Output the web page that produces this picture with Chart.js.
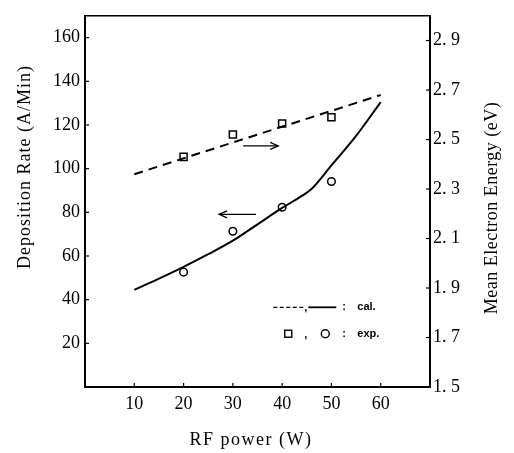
<!DOCTYPE html>
<html>
<head>
<meta charset="utf-8">
<script src="https://cdn.jsdelivr.net/npm/chart.js@4.4.1/dist/chart.umd.min.js"></script>
<style>
  html, body { margin: 0; padding: 0; background: #fff; }
</style>
</head>
<body>
<canvas id="chart" width="514" height="453"></canvas>
<script>
// tick values
const xTicks = [10, 20, 30, 40, 50, 60];
const rateTicks = [20, 40, 60, 80, 100, 120, 140, 160];
const energyTicks = [1.5, 1.7, 1.9, 2.1, 2.3, 2.5, 2.7, 2.9];

// calculated curves (cal.)
const calEnergyPower = [10, 60];
const calEnergy = [2.36, 2.68];
const calRatePower = [10, 15, 20, 25, 30, 35, 40, 44, 46, 50, 55, 60];
const calRate = [44.5, 49.6, 55, 60.8, 67, 74.5, 82, 87.5, 90.8, 101.5, 115, 130.5];

// measured points (exp.)
const expPower = [20, 30, 40, 50];
const expEnergy = [2.43, 2.52, 2.565, 2.59];
const expRate = [52.6, 71.3, 82.3, 94.1];

// arrows: [fromPower, toPower, level]
const energyArrow = [32.1, 39.2, 2.474];
const rateArrow = [34.7, 27.2, 79.1];

const serif = "'Liberation Serif', 'Times New Roman', serif";
Chart.defaults.font.family = serif;
Chart.defaults.font.size = 18;
Chart.defaults.color = '#000';

const pts = (xs, ys) => xs.map((v, i) => ({ x: v, y: ys[i] }));

function setTicks(list) {
  return scale => { scale.ticks = list.map(v => ({ value: v })); };
}

function line(ctx, x1, y1, x2, y2) {
  ctx.beginPath();
  ctx.moveTo(x1, y1);
  ctx.lineTo(x2, y2);
  ctx.stroke();
}

function arrow(ctx, x1, x2, yy) {
  line(ctx, x1, yy, x2, yy);
  const d = x2 > x1 ? -1 : 1;
  ctx.beginPath();
  ctx.moveTo(x2 + d * 8, yy - 3.5);
  ctx.lineTo(x2, yy);
  ctx.lineTo(x2 + d * 8, yy + 3.5);
  ctx.stroke();
}

const extras = {
  id: 'extras',
  afterDraw(chart) {
    const ctx = chart.ctx;
    const a = chart.chartArea;
    const x = chart.scales.x, y = chart.scales.y, yR = chart.scales.yR;
    ctx.save();
    ctx.strokeStyle = '#000';
    ctx.fillStyle = '#000';

    // top of the frame
    ctx.lineWidth = 1.5;
    line(ctx, a.left, a.top, a.right, a.top);

    // inward tick marks
    ctx.lineWidth = 1.2;
    xTicks.forEach(v => {
      const px = x.getPixelForValue(v);
      line(ctx, px, a.bottom, px, a.bottom - 4);
    });
    rateTicks.forEach(v => {
      const py = y.getPixelForValue(v);
      line(ctx, a.left, py, a.left + 4, py);
    });
    energyTicks.forEach(v => {
      const py = yR.getPixelForValue(v);
      line(ctx, a.right, py, a.right - 4, py);
    });

    // arrows pointing at the axis each curve belongs to
    ctx.lineWidth = 1.3;
    arrow(ctx, x.getPixelForValue(energyArrow[0]), x.getPixelForValue(energyArrow[1]), yR.getPixelForValue(energyArrow[2]));
    arrow(ctx, x.getPixelForValue(rateArrow[0]), x.getPixelForValue(rateArrow[1]), y.getPixelForValue(rateArrow[2]));

    // key
    const lx = x.getPixelForValue(38.2);
    const r1 = y.getPixelForValue(36.5);
    const r2 = y.getPixelForValue(24.4);
    ctx.lineWidth = 1.3;
    ctx.setLineDash([4, 2.5]);
    line(ctx, lx, r1, lx + 30, r1);
    ctx.setLineDash([]);
    ctx.lineWidth = 1.8;
    line(ctx, lx + 35, r1, lx + 63, r1);
    ctx.lineWidth = 1.4;
    ctx.strokeRect(lx + 11.5, r2 - 3.5, 7, 7);
    ctx.beginPath();
    ctx.arc(lx + 52, r2, 4, 0, Math.PI * 2);
    ctx.stroke();
    ctx.font = "bold 11px 'Liberation Sans', Arial, sans-serif";
    ctx.textBaseline = 'middle';
    ctx.textAlign = 'left';
    ctx.fillText(',', lx + 31, r1 + 1);
    ctx.fillText(',', lx + 31, r2 + 1);
    ctx.fillText(':', lx + 69, r1);
    ctx.fillText(':', lx + 69, r2);
    ctx.fillText('cal.', lx + 84, r1);
    ctx.fillText('exp.', lx + 84, r2);

    // axis titles
    ctx.font = '18px ' + serif;
    ctx.textAlign = 'center';
    ctx.letterSpacing = '1px';
    ctx.save();
    ctx.translate(25, 167);
    ctx.rotate(-Math.PI / 2);
    ctx.fillText('Deposition Rate (A/Min)', 0, 0);
    ctx.restore();
    ctx.letterSpacing = '0.5px';
    ctx.save();
    ctx.translate(492, 208);
    ctx.rotate(-Math.PI / 2);
    ctx.fillText('Mean Electron Energy (eV)', 0, 0);
    ctx.restore();
    ctx.letterSpacing = '1.5px';
    ctx.fillText('RF power (W)', 251, 440);
    ctx.restore();
  }
};

const axisBorder = { display: true, color: '#000', width: 2 };
const noGrid = { drawOnChartArea: false, drawTicks: false };

new Chart(document.getElementById('chart').getContext('2d'), {
  type: 'scatter',
  data: {
    datasets: [
      {
        label: 'cal. energy',
        data: pts(calEnergyPower, calEnergy),
        yAxisID: 'yR',
        showLine: true,
        borderColor: '#000',
        borderWidth: 2,
        borderDash: [9, 6],
        pointRadius: 0
      },
      {
        label: 'cal. rate',
        data: pts(calRatePower, calRate),
        yAxisID: 'y',
        showLine: true,
        borderColor: '#000',
        borderWidth: 2,
        cubicInterpolationMode: 'monotone',
        pointRadius: 0
      },
      {
        label: 'exp. energy',
        data: pts(expPower, expEnergy),
        yAxisID: 'yR',
        pointStyle: 'rect',
        pointRadius: 5,
        borderColor: '#000',
        borderWidth: 1.5,
        backgroundColor: 'rgba(0,0,0,0)'
      },
      {
        label: 'exp. rate',
        data: pts(expPower, expRate),
        yAxisID: 'y',
        pointStyle: 'circle',
        pointRadius: 3.8,
        borderColor: '#000',
        borderWidth: 1.5,
        backgroundColor: 'rgba(0,0,0,0)'
      }
    ]
  },
  options: {
    responsive: false,
    animation: false,
    layout: { padding: { top: 7, left: 0, right: 0, bottom: 0 } },
    plugins: { legend: { display: false }, tooltip: { enabled: false } },
    scales: {
      x: {
        type: 'linear',
        min: 0,
        max: 70,
        afterBuildTicks: setTicks(xTicks),
        afterFit: s => { s.height = 66; },
        grid: noGrid,
        border: axisBorder,
        ticks: { padding: 6 }
      },
      y: {
        position: 'left',
        min: 0,
        max: 170,
        afterBuildTicks: setTicks(rateTicks),
        afterFit: s => { s.width = 85; },
        grid: noGrid,
        border: axisBorder,
        ticks: { padding: 5 }
      },
      yR: {
        position: 'right',
        min: 1.5,
        max: 3.0,
        afterBuildTicks: setTicks(energyTicks),
        afterFit: s => { s.width = 84; },
        grid: noGrid,
        border: axisBorder,
        ticks: { padding: 3, callback: v => v.toFixed(1).replace('.', '. ') }
      }
    }
  },
  plugins: [extras]
});
</script>
</body>
</html>
